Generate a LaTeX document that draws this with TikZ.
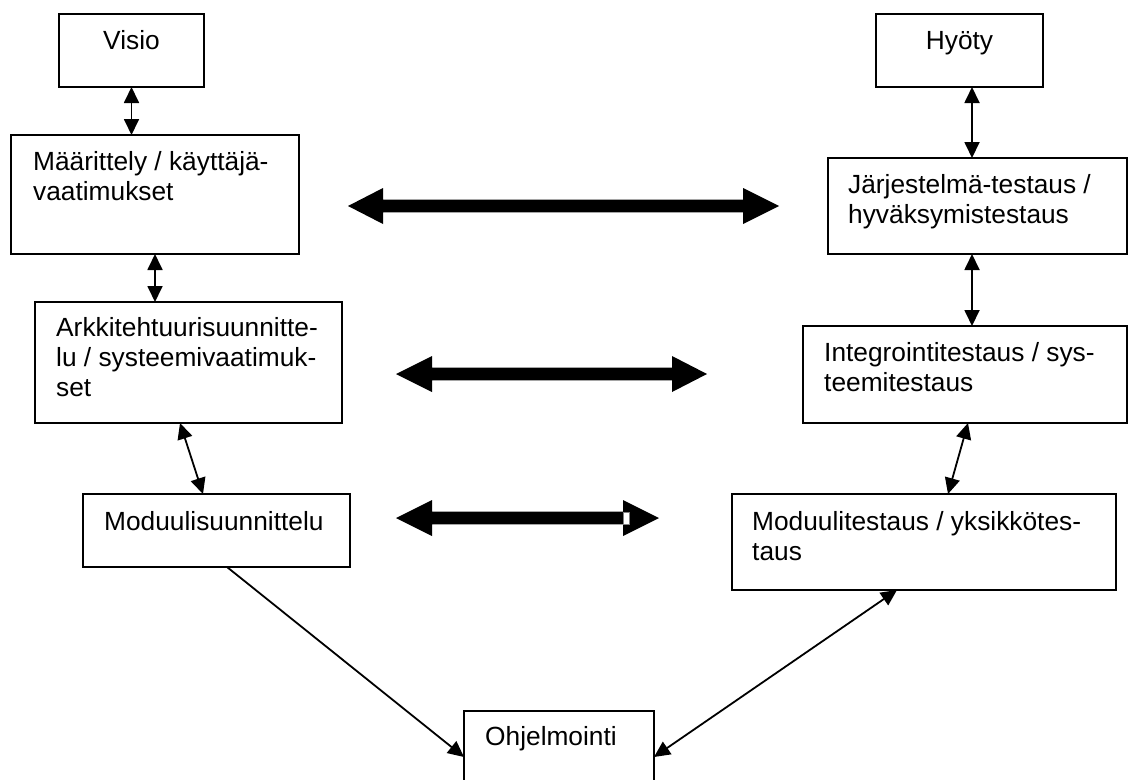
\documentclass[tikz,border=0pt]{standalone}
\usepackage{fontspec}
\setmainfont{Liberation Sans}
\usetikzlibrary{arrows.meta,calc}
\begin{document}
\begin{tikzpicture}[x=1pt,y=-1pt,
  box/.style={draw, line width=1.6pt, rectangle, inner sep=0pt, outer sep=0pt, anchor=north west},
  txt/.style={anchor=base west, inner sep=0pt, font=\fontsize{26.3pt}{30pt}\selectfont},
  tip/.style={Triangle[length=16pt,width=15pt]},
  link/.style={line width=1.8pt, {Triangle[length=16pt,width=15pt]}-{Triangle[length=16pt,width=15pt]}},
  oneway/.style={line width=1.8pt, -{Triangle[length=16pt,width=15pt]}},
]
\useasboundingbox (0,0) rectangle (1129,779);
\clip (0,0) rectangle (1129,779);

% boxes of the V model
\node[box, minimum width=145pt, minimum height=73pt]  (visio) at (59,14) {};
\node[box, minimum width=167pt, minimum height=73pt]  (hyoty) at (876,14) {};
\node[box, minimum width=288pt, minimum height=119pt] (maar)  at (11,135) {};
\node[box, minimum width=299pt, minimum height=96pt]  (jarj)  at (828,158) {};
\node[box, minimum width=307pt, minimum height=121pt] (arkk)  at (35,302) {};
\node[box, minimum width=324pt, minimum height=97pt]  (integ) at (803,326) {};
\node[box, minimum width=267pt, minimum height=73pt]  (modsu) at (83,494) {};
\node[box, minimum width=384pt, minimum height=96pt]  (modte) at (732,494) {};
\node[box, minimum width=190pt, minimum height=100pt] (ohj)   at (464,711) {};

% box texts
\node[txt, anchor=base] (tvisio) at (131.5,49) {Visio};
\node[txt, anchor=base] (thyoty) at (959.5,49) {Hyöty};
\node[txt] (tmaar)  at (33,170)  {\begin{tabular}[t]{@{}l@{}}Määrittely / käyttäjä-\\vaatimukset\end{tabular}};
\node[txt] (tjarj)  at (848,193) {\begin{tabular}[t]{@{}l@{}}Järjestelmä-testaus /\\hyväksymistestaus\end{tabular}};
\node[txt] (tarkk)  at (56,336)  {\begin{tabular}[t]{@{}l@{}}Arkkitehtuurisuunnitte-\\lu / systeemivaatimuk-\\set\end{tabular}};
\node[txt] (tinteg) at (824,361) {\begin{tabular}[t]{@{}l@{}}Integrointitestaus / sys-\\teemitestaus\end{tabular}};
\node[txt] (tmodsu) at (104,530) {Moduulisuunnittelu};
\node[txt] (tmodte) at (752,530) {\begin{tabular}[t]{@{}l@{}}Moduulitestaus / yksikkötes-\\taus\end{tabular}};
\node[txt] (tohj)   at (485,745) {Ohjelmointi};

% thin connectors
\draw[link] (visio.south) -- (visio.south |- maar.north);
\draw[link] (maar.south) -- (maar.south |- arkk.north);
\draw[link] ([xshift=12.5pt]hyoty.south) -- ([xshift=12.5pt]hyoty.south |- jarj.north);
\draw[link] ([xshift=-5.5pt]jarj.south) -- ([xshift=-5.5pt]jarj.south |- integ.north);
\draw[link] ([xshift=145pt]arkk.south west) -- ([xshift=120pt]modsu.north west);
\draw[link] ([xshift=165pt]integ.south west) -- ([xshift=216pt]modte.north west);
\draw[oneway] ([xshift=144pt]modsu.south west) -- ([yshift=-46pt]ohj.north west);
\draw[link] ([yshift=-46pt]ohj.north east) -- ([xshift=165pt]modte.south west);

% broad double arrows between the two branches
\newcommand\blockarrow[4]{% left tip, right tip, left head length, right head length
  \fill (#1) -- ($(#1)+(#3,-18)$) -- ($(#1)+(#3,-6.3)$) -- ($(#2)+(-#4,-6.3)$)
        -- ($(#2)+(-#4,-18)$) -- (#2) -- ($(#2)+(-#4,18)$) -- ($(#2)+(-#4,6.3)$)
        -- ($(#1)+(#3,6.3)$) -- ($(#1)+(#3,18)$) -- cycle;}
\coordinate (b1l) at (348,206); \coordinate (b1r) at (779,206);
\coordinate (b2l) at (396,374); \coordinate (b2r) at (707,374);
\coordinate (b3l) at (396,518); \coordinate (b3r) at (659,518);
\blockarrow{b1l}{b1r}{35}{36}
\blockarrow{b2l}{b2r}{36}{35}
\blockarrow{b3l}{b3r}{36}{36}
\filldraw[fill=white, draw=gray, line width=0.7pt] (623,512.7) rectangle (629,524.3);
\end{tikzpicture}
\end{document}
